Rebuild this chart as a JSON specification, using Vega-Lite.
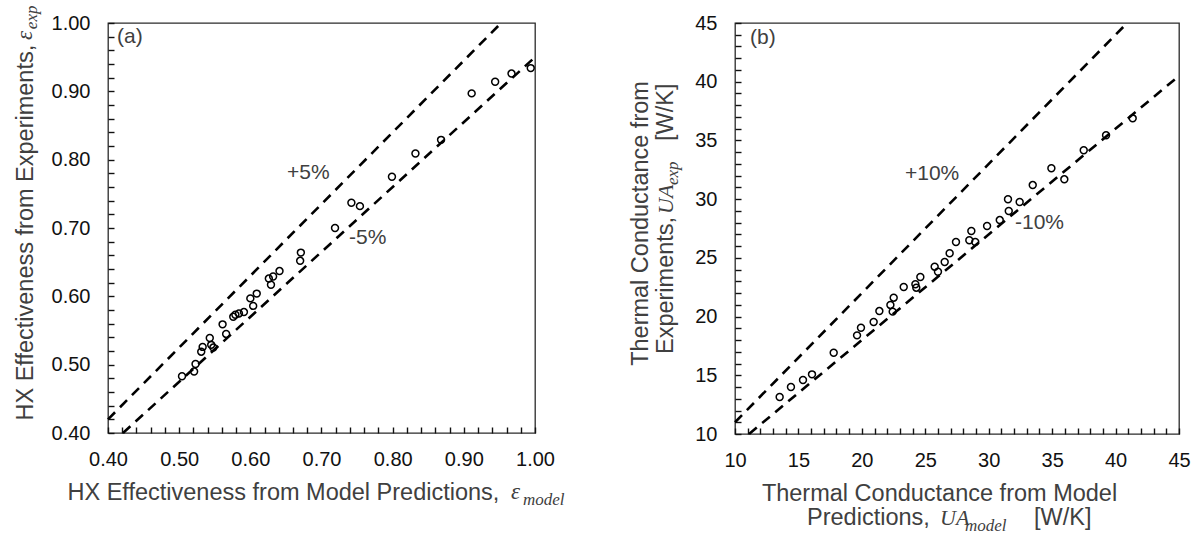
{
  "$schema": "https://vega.github.io/schema/vega-lite/v6.json",
  "background": "white",
  "padding": {"left": 12, "top": 4, "right": 5, "bottom": 5},
  "spacing": 200,
  "bounds": "flush",
  "config": {
    "font": "Liberation Sans",
    "view": {"stroke": "#2b2b2b", "strokeWidth": 1.3},
    "axis": {
      "grid": false,
      "domain": false,
      "zindex": 2,
      "ticks": true,
      "offset": -6,
      "tickSize": 6,
      "tickColor": "#111",
      "tickWidth": 1.4,
      "tickOpacity": 1,
      "labelFont": "Liberation Sans",
      "labelFontSize": 20,
      "labelColor": "#111",
      "labelFlush": false,
      "labelOverlap": false,
      "labelBound": false,
      "titleFont": "Liberation Sans",
      "titleFontSize": 23.5,
      "titleFontWeight": "normal",
      "titleColor": "#404040"
    },
    "axisX": {"labelPadding": 16},
    "axisY": {"labelPadding": 18}
  },
  "hconcat": [
    {
      "width": 427,
      "height": 410,
      "encoding": {
        "x": {
          "field": "x",
          "type": "quantitative",
          "scale": {"domain": [0.4, 1.0], "nice": false, "zero": false},
          "axis": {
            "title": "HX Effectiveness from Model Predictions,",
            "titleAlign": "left",
            "titleBaseline": "alphabetic",
            "titleX": -41,
            "titleY": 72,
            "format": ".2f",
            "values": [0.4, 0.42, 0.44, 0.46, 0.48, 0.5, 0.52, 0.54, 0.56, 0.58, 0.6, 0.62, 0.64, 0.66, 0.68, 0.7, 0.72, 0.74, 0.76, 0.78, 0.8, 0.82, 0.84, 0.86, 0.88, 0.9, 0.92, 0.94, 0.96, 0.98, 1.0],
            "labelExpr": "abs(datum.value * 10 - round(datum.value * 10)) < 0.001 ? datum.label : ''"
          }
        },
        "y": {
          "field": "y",
          "type": "quantitative",
          "scale": {"domain": [0.4, 1.0], "nice": false, "zero": false},
          "axis": {
            "title": "HX Effectiveness from Experiments,",
            "titleAngle": 270,
            "titleAlign": "left",
            "titleBaseline": "alphabetic",
            "titleX": -82,
            "titleY": 397,
            "format": ".2f",
            "values": [0.4, 0.42, 0.44, 0.46, 0.48, 0.5, 0.52, 0.54, 0.56, 0.58, 0.6, 0.62, 0.64, 0.66, 0.68, 0.7, 0.72, 0.74, 0.76, 0.78, 0.8, 0.82, 0.84, 0.86, 0.88, 0.9, 0.92, 0.94, 0.96, 0.98, 1.0],
            "labelExpr": "abs(datum.value * 10 - round(datum.value * 10)) < 0.001 ? datum.label : ''"
          }
        }
      },
      "layer": [
        {
          "data": {"values": [
            {"band": "+5%", "x": 0.4, "y": 0.42},
            {"band": "+5%", "x": 0.952381, "y": 1.0},
            {"band": "-5%", "x": 0.421053, "y": 0.4},
            {"band": "-5%", "x": 1.0, "y": 0.95}
          ]},
          "mark": {"type": "line", "stroke": "#000", "strokeWidth": 2.6, "strokeDash": [10, 7]},
          "encoding": {"detail": {"field": "band"}}
        },
        {
          "data": {"values": [
            {"x": 0.504, "y": 0.483}, {"x": 0.521, "y": 0.490}, {"x": 0.523, "y": 0.501},
            {"x": 0.531, "y": 0.519}, {"x": 0.533, "y": 0.526}, {"x": 0.543, "y": 0.539},
            {"x": 0.545, "y": 0.529}, {"x": 0.548, "y": 0.525}, {"x": 0.561, "y": 0.559},
            {"x": 0.566, "y": 0.545}, {"x": 0.576, "y": 0.570}, {"x": 0.579, "y": 0.573},
            {"x": 0.584, "y": 0.575}, {"x": 0.591, "y": 0.577}, {"x": 0.600, "y": 0.597},
            {"x": 0.604, "y": 0.586}, {"x": 0.609, "y": 0.604}, {"x": 0.626, "y": 0.626},
            {"x": 0.629, "y": 0.617}, {"x": 0.632, "y": 0.629}, {"x": 0.641, "y": 0.637},
            {"x": 0.671, "y": 0.664}, {"x": 0.670, "y": 0.652}, {"x": 0.719, "y": 0.700},
            {"x": 0.742, "y": 0.737}, {"x": 0.754, "y": 0.732}, {"x": 0.799, "y": 0.775},
            {"x": 0.832, "y": 0.809}, {"x": 0.868, "y": 0.829}, {"x": 0.911, "y": 0.897},
            {"x": 0.944, "y": 0.914}, {"x": 0.967, "y": 0.926}, {"x": 0.994, "y": 0.934}
          ]},
          "mark": {"type": "point", "shape": "circle", "filled": false, "stroke": "#000", "strokeWidth": 1.5, "size": 48, "opacity": 1}
        },
        {
          "data": {"values": [
            {"x": 0.4126, "y": 0.979, "t": "(a)"},
            {"x": 0.6515, "y": 0.780, "t": "+5%"},
            {"x": 0.7386, "y": 0.685, "t": "-5%"}
          ]},
          "mark": {"type": "text", "align": "left", "baseline": "middle", "fontSize": 21, "fill": "#404040"},
          "encoding": {"text": {"field": "t"}}
        },
        {
          "data": {"values": [{"x": 0.9663, "y": 0.3027, "t": "ε"}]},
          "mark": {"type": "text", "align": "left", "baseline": "alphabetic", "font": "Liberation Serif", "fontStyle": "italic", "fontSize": 23, "fill": "#404040"},
          "encoding": {"text": {"field": "t"}}
        },
        {
          "data": {"values": [{"x": 0.983, "y": 0.2946, "t": "model"}]},
          "mark": {"type": "text", "align": "left", "baseline": "alphabetic", "font": "Liberation Serif", "fontStyle": "italic", "fontSize": 17, "fill": "#404040"},
          "encoding": {"text": {"field": "t"}}
        },
        {
          "data": {"values": [{"x": 0.2932, "y": 0.975, "t": "ε"}]},
          "mark": {"type": "text", "angle": 270, "align": "left", "baseline": "alphabetic", "font": "Liberation Serif", "fontStyle": "italic", "fontSize": 23, "fill": "#404040"},
          "encoding": {"text": {"field": "t"}}
        },
        {
          "data": {"values": [{"x": 0.3002, "y": 0.991, "t": "exp"}]},
          "mark": {"type": "text", "angle": 270, "align": "left", "baseline": "alphabetic", "font": "Liberation Serif", "fontStyle": "italic", "fontSize": 17, "fill": "#404040"},
          "encoding": {"text": {"field": "t"}}
        }
      ]
    },
    {
      "width": 444,
      "height": 411,
      "encoding": {
        "x": {
          "field": "x",
          "type": "quantitative",
          "scale": {"domain": [10, 45], "nice": false, "zero": false},
          "axis": {
            "title": "Thermal Conductance from Model",
            "titleAlign": "center",
            "titleBaseline": "alphabetic",
            "titleX": 204,
            "titleY": 72,
            "format": "d",
            "values": [10, 11, 12, 13, 14, 15, 16, 17, 18, 19, 20, 21, 22, 23, 24, 25, 26, 27, 28, 29, 30, 31, 32, 33, 34, 35, 36, 37, 38, 39, 40, 41, 42, 43, 44, 45],
            "labelExpr": "datum.value % 5 === 0 ? datum.label : ''"
          }
        },
        "y": {
          "field": "y",
          "type": "quantitative",
          "scale": {"domain": [10, 45], "nice": false, "zero": false},
          "axis": {
            "title": "Thermal Conductance from",
            "titleAngle": 270,
            "titleAlign": "center",
            "titleBaseline": "alphabetic",
            "titleX": -94,
            "titleY": 200,
            "format": "d",
            "values": [10, 11, 12, 13, 14, 15, 16, 17, 18, 19, 20, 21, 22, 23, 24, 25, 26, 27, 28, 29, 30, 31, 32, 33, 34, 35, 36, 37, 38, 39, 40, 41, 42, 43, 44, 45],
            "labelExpr": "datum.value % 5 === 0 ? datum.label : ''"
          }
        }
      },
      "layer": [
        {
          "data": {"values": [
            {"band": "+10%", "x": 10, "y": 11},
            {"band": "+10%", "x": 40.909, "y": 45},
            {"band": "-10%", "x": 11.111, "y": 10},
            {"band": "-10%", "x": 45, "y": 40.5}
          ]},
          "mark": {"type": "line", "stroke": "#000", "strokeWidth": 2.6, "strokeDash": [10, 7]},
          "encoding": {"detail": {"field": "band"}}
        },
        {
          "data": {"values": [
            {"x": 13.52, "y": 13.15}, {"x": 14.41, "y": 14.00}, {"x": 15.36, "y": 14.60},
            {"x": 16.07, "y": 15.08}, {"x": 17.78, "y": 16.92}, {"x": 19.62, "y": 18.40},
            {"x": 19.93, "y": 19.05}, {"x": 20.93, "y": 19.54}, {"x": 21.38, "y": 20.47},
            {"x": 22.25, "y": 20.99}, {"x": 22.43, "y": 20.42}, {"x": 22.51, "y": 21.61},
            {"x": 23.30, "y": 22.52}, {"x": 24.22, "y": 22.75}, {"x": 24.29, "y": 22.46},
            {"x": 24.61, "y": 23.37}, {"x": 25.74, "y": 24.25}, {"x": 26.00, "y": 23.82},
            {"x": 26.53, "y": 24.65}, {"x": 26.92, "y": 25.39}, {"x": 27.42, "y": 26.35},
            {"x": 28.47, "y": 26.50}, {"x": 28.63, "y": 27.29}, {"x": 28.94, "y": 26.35},
            {"x": 29.87, "y": 27.71}, {"x": 30.87, "y": 28.22}, {"x": 31.52, "y": 29.99},
            {"x": 31.58, "y": 28.99}, {"x": 32.44, "y": 29.76}, {"x": 33.47, "y": 31.20},
            {"x": 34.94, "y": 32.63}, {"x": 35.96, "y": 31.69}, {"x": 37.49, "y": 34.16},
            {"x": 39.25, "y": 35.44}, {"x": 41.35, "y": 36.88}
          ]},
          "mark": {"type": "point", "shape": "circle", "filled": false, "stroke": "#000", "strokeWidth": 1.5, "size": 48, "opacity": 1}
        },
        {
          "data": {"values": [
            {"x": 11.18, "y": 43.72, "t": "(b)"},
            {"x": 23.40, "y": 32.14, "t": "+10%"},
            {"x": 32.07, "y": 27.97, "t": "-10%"}
          ]},
          "mark": {"type": "text", "align": "left", "baseline": "middle", "fontSize": 21, "fill": "#404040"},
          "encoding": {"text": {"field": "t"}}
        },
        {
          "data": {"values": [
            {"x": 15.68, "y": 2.21, "t": "Predictions,"},
            {"x": 33.57, "y": 2.21, "t": "[W/K]"}
          ]},
          "mark": {"type": "text", "align": "left", "baseline": "alphabetic", "fontSize": 23.5, "fill": "#404040"},
          "encoding": {"text": {"field": "t"}}
        },
        {
          "data": {"values": [{"x": 26.16, "y": 2.21, "t": "UA"}]},
          "mark": {"type": "text", "align": "left", "baseline": "alphabetic", "font": "Liberation Serif", "fontStyle": "italic", "fontSize": 22, "fill": "#404040"},
          "encoding": {"text": {"field": "t"}}
        },
        {
          "data": {"values": [{"x": 28.13, "y": 1.78, "t": "model"}]},
          "mark": {"type": "text", "align": "left", "baseline": "alphabetic", "font": "Liberation Serif", "fontStyle": "italic", "fontSize": 17, "fill": "#404040"},
          "encoding": {"text": {"field": "t"}}
        },
        {
          "data": {"values": [
            {"x": 5.152, "y": 16.81, "t": "Experiments,"},
            {"x": 5.152, "y": 34.95, "t": "[W/K]"}
          ]},
          "mark": {"type": "text", "angle": 270, "align": "left", "baseline": "alphabetic", "fontSize": 23.5, "fill": "#404040"},
          "encoding": {"text": {"field": "t"}}
        },
        {
          "data": {"values": [{"x": 5.152, "y": 28.74, "t": "UA"}]},
          "mark": {"type": "text", "angle": 270, "align": "left", "baseline": "alphabetic", "font": "Liberation Serif", "fontStyle": "italic", "fontSize": 22, "fill": "#404040"},
          "encoding": {"text": {"field": "t"}}
        },
        {
          "data": {"values": [{"x": 5.546, "y": 31.2, "t": "exp"}]},
          "mark": {"type": "text", "angle": 270, "align": "left", "baseline": "alphabetic", "font": "Liberation Serif", "fontStyle": "italic", "fontSize": 17, "fill": "#404040"},
          "encoding": {"text": {"field": "t"}}
        }
      ]
    }
  ]
}
